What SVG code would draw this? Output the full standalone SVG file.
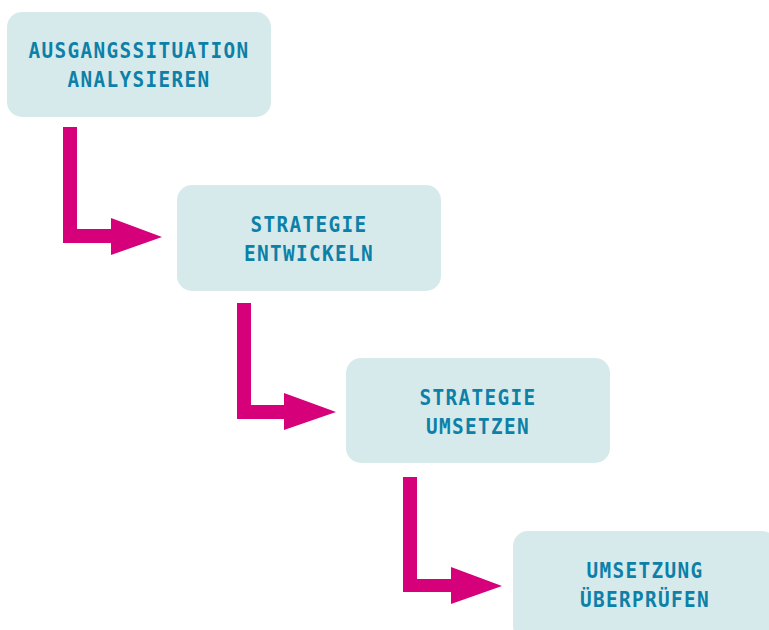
<svg xmlns="http://www.w3.org/2000/svg" width="769" height="630" viewBox="0 0 769 630">
<style>
.box{fill:#d6eaec;}
.lbl{font-family:"DejaVu Sans Mono","Liberation Mono",monospace;font-weight:bold;font-size:21.5px;letter-spacing:1.5px;fill:#0d80a8;text-anchor:middle;}
.arr{fill:#d5007a;}
</style>
<rect width="769" height="630" fill="#ffffff"/>
<g id="connectors">
<polygon class="arr" points="63,127 77,127 77,229 111,229 111,218 162,237 111,255 111,243 63,243"/>
<polygon class="arr" points="237,303 251,303 251,405 284,405 284,393 336,412 284,430 284,419 237,419"/>
<polygon class="arr" points="403,477 417,477 417,579 451,579 451,567 502,586 451,604 451,592 403,592"/>
</g>
<g id="node1">
<rect class="box" x="7" y="12" width="264" height="105" rx="15"/>
<g transform="translate(139,0) scale(0.9,1)">
<text class="lbl" x="0" y="58">AUSGANGSSITUATION</text>
<text class="lbl" x="0" y="87">ANALYSIEREN</text>
</g>
</g>
<g id="node2">
<rect class="box" x="177" y="185" width="264" height="106" rx="15"/>
<g transform="translate(309,0) scale(0.9,1)">
<text class="lbl" x="0" y="232">STRATEGIE</text>
<text class="lbl" x="0" y="261">ENTWICKELN</text>
</g>
</g>
<g id="node3">
<rect class="box" x="346" y="358" width="264" height="105" rx="15"/>
<g transform="translate(478,0) scale(0.9,1)">
<text class="lbl" x="0" y="405">STRATEGIE</text>
<text class="lbl" x="0" y="434">UMSETZEN</text>
</g>
</g>
<g id="node4">
<rect class="box" x="513" y="531" width="264" height="110" rx="15"/>
<g transform="translate(645,0) scale(0.9,1)">
<text class="lbl" x="0" y="578">UMSETZUNG</text>
<text class="lbl" x="0" y="607">ÜBERPRÜFEN</text>
</g>
</g>
</svg>
